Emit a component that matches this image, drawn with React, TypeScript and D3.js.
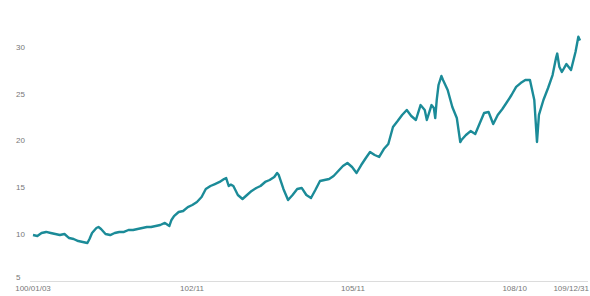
import React from 'react';
import * as d3 from 'd3';

// closes: one per month, with a few extra days where the line turns sharply
const dates = [
  '2011-01-03', '2011-02-01', '2011-03-01', '2011-04-01', '2011-05-01', '2011-06-01', '2011-07-01', '2011-08-01', '2011-09-01', '2011-10-01', '2011-11-01', '2011-12-01',
  '2012-01-01', '2012-01-15', '2012-02-01', '2012-03-01', '2012-03-15', '2012-04-01', '2012-05-01', '2012-06-01', '2012-07-01', '2012-08-01', '2012-09-01', '2012-10-01', '2012-11-01', '2012-12-01',
  '2013-01-01', '2013-02-01', '2013-03-01', '2013-04-01', '2013-05-01', '2013-06-01', '2013-07-01', '2013-07-15', '2013-08-01', '2013-09-01', '2013-10-01', '2013-11-01', '2013-12-01',
  '2014-01-01', '2014-02-01', '2014-03-01', '2014-04-01', '2014-05-01', '2014-06-01', '2014-07-01', '2014-07-15', '2014-08-01', '2014-08-15', '2014-09-01', '2014-10-01', '2014-11-01', '2014-12-01',
  '2015-01-01', '2015-02-01', '2015-03-01', '2015-04-01', '2015-05-01', '2015-06-01', '2015-06-20', '2015-07-01', '2015-08-01', '2015-09-01', '2015-10-01', '2015-11-01', '2015-12-01',
  '2016-01-01', '2016-02-01', '2016-03-01', '2016-04-01', '2016-05-01', '2016-06-01', '2016-07-01', '2016-08-01', '2016-09-01', '2016-10-01', '2016-11-01', '2016-12-01',
  '2017-01-01', '2017-02-01', '2017-03-01', '2017-04-01', '2017-05-01', '2017-06-01', '2017-07-01', '2017-08-01', '2017-09-01', '2017-10-01', '2017-11-01', '2017-12-01',
  '2018-01-01', '2018-02-01', '2018-03-01', '2018-03-15', '2018-04-01', '2018-04-15', '2018-05-01', '2018-05-10', '2018-05-20', '2018-06-01', '2018-06-20', '2018-07-01', '2018-08-01', '2018-09-01', '2018-10-01', '2018-10-24', '2018-11-01', '2018-12-01',
  '2019-01-01', '2019-02-01', '2019-03-01', '2019-04-01', '2019-05-01', '2019-06-01', '2019-07-01', '2019-08-01', '2019-09-01', '2019-10-01', '2019-11-01', '2019-12-01',
  '2020-01-01', '2020-02-01', '2020-03-01', '2020-03-19', '2020-04-01', '2020-05-01', '2020-06-01', '2020-07-01', '2020-07-25', '2020-08-01', '2020-08-15', '2020-09-01', '2020-10-01', '2020-11-01', '2020-12-01', '2020-12-20', '2020-12-31',
];

const prices = [
  9.91, 9.81, 10.13, 10.24, 10.13, 10.02, 9.91, 10.02, 9.59, 9.49, 9.27, 9.17,
  9.06, 9.49, 10.13, 10.66, 10.77, 10.56, 10.02, 9.91, 10.13, 10.24, 10.24, 10.45, 10.45, 10.56,
  10.66, 10.77, 10.77, 10.88, 10.98, 11.2, 10.88, 11.52, 11.94, 12.37, 12.48, 12.9, 13.12,
  13.44, 13.97, 14.83, 15.15, 15.36, 15.58, 15.9, 16.0, 15.15, 15.3, 15.15, 14.19, 13.76, 14.19,
  14.62, 14.94, 15.15, 15.58, 15.79, 16.11, 16.54, 16.32, 14.83, 13.65, 14.19, 14.83, 14.94,
  14.19, 13.87, 14.72, 15.68, 15.79, 15.9, 16.22, 16.75, 17.29, 17.61, 17.18, 16.54,
  17.39, 18.14, 18.78, 18.46, 18.25, 19.1, 19.64, 21.45, 22.09, 22.74, 23.27, 22.63,
  22.2, 23.8, 23.27, 22.2, 23.06, 23.8, 23.48, 22.41, 24.34, 25.94, 26.9, 26.47, 25.41, 23.59, 22.41, 19.85, 20.06, 20.6,
  21.02, 20.7, 21.77, 22.95, 23.06, 21.77, 22.74, 23.38, 24.12, 24.87, 25.73, 26.15,
  26.47, 26.47, 24.34, 19.85, 22.74, 24.34, 25.62, 27.0, 28.9, 29.3, 27.9, 27.33, 28.18, 27.54, 29.47, 31.1, 30.7,
];

const yTicks = [5, 10, 15, 20, 25, 30];
const xTickDates = ['2011-01-03', '2013-11-29', '2016-11-07', '2019-10-22', '2020-12-31'];
const xTickLabels = ['100/01/03', '102/11', '105/11', '108/10', '109/12/31'];

export default function App() {
  const w = 590, h = 296;
  const parse = d3.timeParse('%Y-%m-%d');
  const data = dates.map((d, i) => ({ date: parse(d) as Date, value: prices[i] }));

  const x = d3.scaleTime()
    .domain([parse('2011-01-03') as Date, parse('2020-12-31') as Date])
    .range([33, 580]);
  const y = d3.scaleLinear().domain([5, 30]).range([281, 47]);

  const line = d3.line<{ date: Date; value: number }>()
    .x(d => x(d.date))
    .y(d => y(d.value));

  const font = 'Arial, "Liberation Sans", sans-serif';
  const last = xTickDates.length - 1;

  return (
    <svg width={w} height={h} style={{ position: 'absolute', left: 0, top: 0, background: '#fff' }}>
      {/* y labels */}
      {yTicks.map(t => (
        <text key={t} x={16} y={y(t) - (t === 5 ? 4 : 0)} dy="0.35em" fontSize={8} fill="#777" fontFamily={font}>
          {t}
        </text>
      ))}
      {/* baseline */}
      <line x1={30} x2={588} y1={281.5} y2={281.5} stroke="#dcdcdc" strokeWidth={1} />
      {/* x labels */}
      {xTickDates.map((d, i) => (
        <text key={d} x={i === last ? 589 : x(parse(d) as Date)} y={291}
          textAnchor={i === last ? 'end' : 'middle'}
          fontSize={8} fill="#777" fontFamily={font}>
          {xTickLabels[i]}
        </text>
      ))}
      <path d={line(data) || ''} fill="none" stroke="#1b8b98" strokeWidth={2.4} strokeLinejoin="round" />
    </svg>
  );
}
